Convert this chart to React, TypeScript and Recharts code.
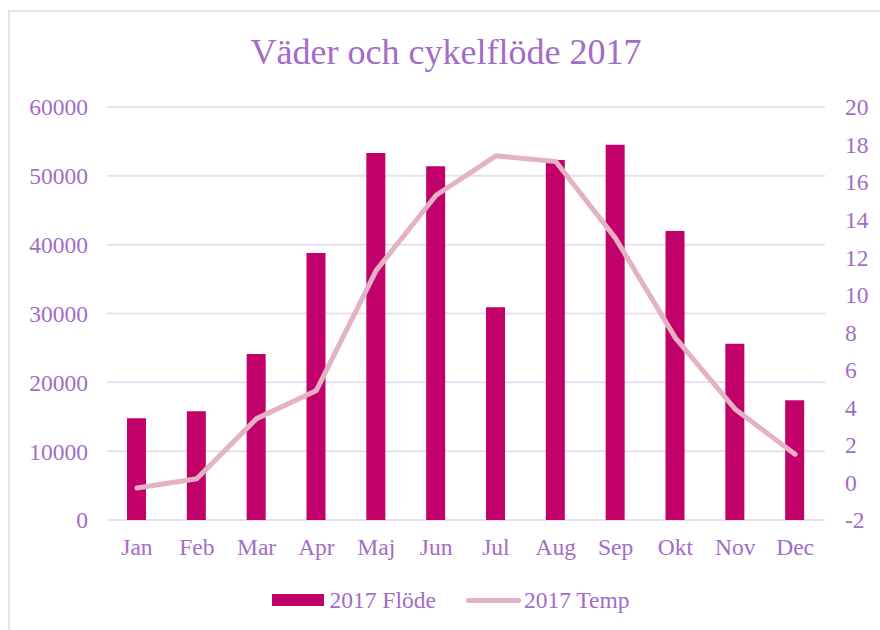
import { ComposedChart, Bar, Line, XAxis, YAxis, CartesianGrid, Legend } from "recharts";

const months = ["Jan", "Feb", "Mar", "Apr", "Maj", "Jun", "Jul", "Aug", "Sep", "Okt", "Nov", "Dec"];
const flow2017 = [14800, 15800, 24100, 38800, 53300, 51400, 30900, 52300, 54500, 42000, 25600, 17400];
const temp2017 = [-0.3, 0.2, 3.4, 4.9, 11.3, 15.3, 17.4, 17.1, 13.0, 7.7, 3.9, 1.5];
const flowTicks = [0, 10000, 20000, 30000, 40000, 50000, 60000];
const tempTicks = [-2, 0, 2, 4, 6, 8, 10, 12, 14, 16, 18, 20];

const FONT = '"Liberation Serif", "Times New Roman", serif';
const TEXT = "#A36CC6";
const BAR = "#C2006A";
const LINE = "#E4B2C3";
const GRID = "#E9DFF4";

const data = months.map((m, i) => ({ month: m, flow: flow2017[i], temp: temp2017[i] }));

function LegendContent() {
  return (
    <div style={{ display: "flex", justifyContent: "center", alignItems: "center", height: 40, paddingLeft: 22, fontFamily: FONT, fontSize: 23.5, color: TEXT }}>
      <span style={{ display: "flex", alignItems: "center", marginRight: 30 }}>
        <span style={{ width: 52, height: 12, background: BAR, marginRight: 5 }} />
        2017 Flöde
      </span>
      <span style={{ display: "flex", alignItems: "center" }}>
        <span style={{ width: 55, height: 5, borderRadius: 3, background: LINE, marginRight: 3 }} />
        2017 Temp
      </span>
    </div>
  );
}

export default function App() {
  const tick = { fill: TEXT, fontSize: 23.5, fontFamily: FONT };
  return (
    <div style={{ position: "absolute", left: 0, top: 0, width: 880, height: 630, overflow: "hidden", background: "#fff" }}>
      <div style={{ position: "absolute", left: 8, top: 10, width: 900, height: 700, border: `2px solid ${GRID}` }} />
      <div style={{ position: "absolute", left: 6, top: 31, width: 880, textAlign: "center", fontFamily: FONT, fontSize: 36, color: TEXT }}>
        Väder och cykelflöde 2017
      </div>
      <div style={{ position: "absolute", left: 0, top: 0 }}>
        <ComposedChart width={880} height={630} data={data} margin={{ top: 107, right: 0, left: 0, bottom: 10 }}>
          <CartesianGrid yAxisId="left" vertical={false} stroke={GRID} strokeWidth={2} />
          <XAxis dataKey="month" axisLine={false} tickLine={false} tick={tick} tickMargin={12} height={60} interval={0} />
          <YAxis yAxisId="left" orientation="left" domain={[0, 60000]} ticks={flowTicks} axisLine={false} tickLine={false} tick={tick} tickMargin={13} width={107} />
          <YAxis yAxisId="right" orientation="right" domain={[-2, 20]} ticks={tempTicks} axisLine={false} tickLine={false} tick={{ ...tick, textAnchor: "start" }} tickMargin={14} width={55} />
          <Legend verticalAlign="bottom" height={40} content={<LegendContent />} />
          <Bar yAxisId="left" dataKey="flow" name="2017 Flöde" fill={BAR} barSize={19} isAnimationActive={false} />
          <Line yAxisId="right" dataKey="temp" name="2017 Temp" type="linear" stroke={LINE} strokeWidth={5} strokeLinecap="round" strokeLinejoin="round" dot={false} activeDot={false} isAnimationActive={false} />
        </ComposedChart>
      </div>
    </div>
  );
}
